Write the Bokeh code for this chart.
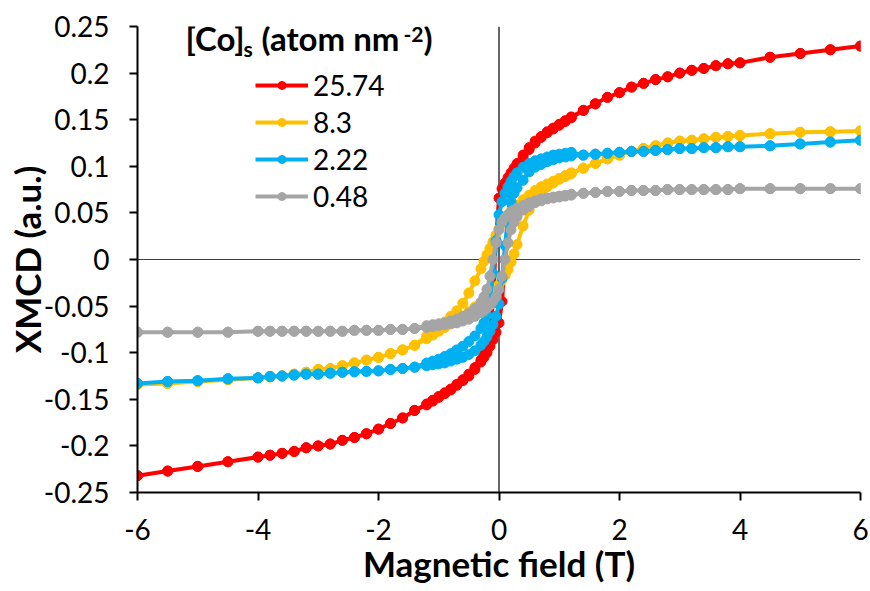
from bokeh.plotting import figure
from bokeh.models import (Span, Legend, LegendItem, Label, FixedTicker,
                          CustomJSTickFormatter, ColumnDataSource)
from bokeh.embed import file_html
from bokeh.resources import INLINE

# ---------------- data ----------------
SERIES = ["25.74", "8.3", "2.22", "0.48"]
COLORS = ["#FF0000", "#FFC000", "#00B0F0", "#A5A5A5"]

# magnetic field values (T)
X_OUT_POS = [6.0, 5.5, 5.0, 4.5, 4.0, 3.8, 3.6, 3.4, 3.2, 3.0, 2.8, 2.6, 2.4, 2.2, 2.0, 1.8, 1.6, 1.4]
X_IN_DOWN = [1.2, 1.1, 1.0, 0.9, 0.8, 0.7, 0.6, 0.5, 0.4, 0.3, 0.25, 0.2, 0.15, 0.1, 0.05, 0.0,
             -0.05, -0.1, -0.15, -0.2, -0.25, -0.3, -0.4, -0.5, -0.6, -0.7, -0.8, -0.9, -1.0, -1.1, -1.2]
X_OUT_NEG = [-1.4, -1.6, -1.8, -2.0, -2.2, -2.4, -2.6, -2.8, -3.0, -3.2, -3.4, -3.6, -3.8, -4.0, -4.5, -5.0, -5.5, -6.0]
X_IN_UP = [-1.2, -1.1, -1.0, -0.9, -0.8, -0.7, -0.6, -0.5, -0.4, -0.3, -0.25, -0.2, -0.15, -0.1, -0.05, 0.0,
           0.05, 0.1, 0.15, 0.2, 0.25, 0.3, 0.4, 0.5, 0.6, 0.7, 0.8, 0.9, 1.0, 1.1, 1.2]

# 25.74 atom/nm2
RED_OUT_POS = [0.229, 0.225, 0.221, 0.217, 0.211, 0.210, 0.208, 0.205, 0.203, 0.200, 0.196, 0.193, 0.189, 0.185, 0.179, 0.174, 0.167, 0.160]
RED_IN_DOWN = [0.153, 0.149, 0.145, 0.141, 0.137, 0.132, 0.127, 0.120, 0.112, 0.103, 0.098, 0.093, 0.088, 0.082, 0.076, 0.066,
               0.020, -0.045, -0.078, -0.094, -0.102, -0.108, -0.116, -0.123, -0.129, -0.134, -0.139, -0.143, -0.147, -0.151, -0.155]
RED_OUT_NEG = [-0.162, -0.170, -0.176, -0.182, -0.187, -0.191, -0.194, -0.198, -0.200, -0.202, -0.206, -0.208, -0.210, -0.212, -0.217, -0.222, -0.227, -0.232]
RED_IN_UP = [-0.156, -0.152, -0.148, -0.144, -0.140, -0.135, -0.130, -0.125, -0.118, -0.110, -0.105, -0.100, -0.093, -0.086, -0.078, -0.068,
             -0.045, 0.000, 0.045, 0.075, 0.090, 0.098, 0.109, 0.118, 0.125, 0.131, 0.136, 0.140, 0.144, 0.148, 0.152]

# 8.3 atom/nm2
YEL_OUT_POS = [0.138, 0.137, 0.1365, 0.135, 0.133, 0.132, 0.131, 0.1295, 0.128, 0.127, 0.125, 0.122, 0.119, 0.116, 0.112, 0.108, 0.103, 0.098]
YEL_IN_DOWN = [0.093, 0.090, 0.087, 0.084, 0.081, 0.078, 0.074, 0.069, 0.064, 0.058, 0.055, 0.052, 0.048, 0.044, 0.039, 0.033,
               0.026, 0.019, 0.012, 0.005, -0.002, -0.010, -0.023, -0.036, -0.047, -0.055, -0.061, -0.067, -0.072, -0.077, -0.082]
YEL_OUT_NEG = [-0.092, -0.097, -0.101, -0.105, -0.108, -0.111, -0.114, -0.117, -0.118, -0.121, -0.123, -0.125, -0.126, -0.127, -0.129, -0.131, -0.133, -0.134]
YEL_IN_UP = [-0.085, -0.081, -0.077, -0.073, -0.069, -0.065, -0.061, -0.056, -0.051, -0.046, -0.043, -0.040, -0.037, -0.034, -0.031, -0.027,
             -0.022, -0.017, -0.011, -0.003, 0.006, 0.016, 0.036, 0.053, 0.064, 0.072, 0.078, 0.082, 0.086, 0.089, 0.092]

# 2.22 atom/nm2
BLU_OUT_POS = [0.128, 0.126, 0.124, 0.122, 0.121, 0.121, 0.120, 0.120, 0.119, 0.119, 0.118, 0.117, 0.116, 0.116, 0.115, 0.114, 0.113, 0.112]
BLU_IN_DOWN = [0.115, 0.114, 0.113, 0.112, 0.110, 0.108, 0.106, 0.103, 0.099, 0.093, 0.089, 0.084, 0.078, 0.071, 0.062, 0.048,
               0.020, -0.015, -0.045, -0.060, -0.068, -0.074, -0.082, -0.088, -0.093, -0.097, -0.101, -0.104, -0.107, -0.109, -0.111]
BLU_OUT_NEG = [-0.1155, -0.117, -0.118, -0.1195, -0.120, -0.1205, -0.121, -0.122, -0.123, -0.123, -0.124, -0.125, -0.1255, -0.127, -0.128, -0.130, -0.131, -0.133]
BLU_IN_UP = [-0.114, -0.113, -0.112, -0.111, -0.109, -0.107, -0.105, -0.102, -0.098, -0.092, -0.088, -0.083, -0.077, -0.070, -0.061, -0.048,
             -0.020, 0.015, 0.045, 0.062, 0.071, 0.077, 0.085, 0.094, 0.099, 0.102, 0.105, 0.107, 0.109, 0.110, 0.111]

# 0.48 atom/nm2
GRY_OUT_POS = [0.076, 0.076, 0.076, 0.076, 0.076, 0.075, 0.075, 0.075, 0.075, 0.075, 0.075, 0.074, 0.074, 0.074, 0.073, 0.073, 0.072, 0.071]
GRY_IN_DOWN = [0.070, 0.069, 0.068, 0.067, 0.066, 0.065, 0.063, 0.061, 0.058, 0.055, 0.053, 0.051, 0.048, 0.045, 0.040, 0.032,
               0.018, 0.000, -0.018, -0.032, -0.040, -0.046, -0.053, -0.058, -0.061, -0.064, -0.066, -0.068, -0.069, -0.070, -0.071]
GRY_OUT_NEG = [-0.074, -0.075, -0.075, -0.076, -0.076, -0.076, -0.077, -0.077, -0.077, -0.077, -0.077, -0.077, -0.077, -0.077, -0.078, -0.078, -0.078, -0.078]
GRY_IN_UP = [-0.073, -0.072, -0.071, -0.070, -0.069, -0.068, -0.066, -0.064, -0.061, -0.057, -0.055, -0.052, -0.049, -0.045, -0.040, -0.032,
             -0.018, 0.000, 0.018, 0.032, 0.040, 0.046, 0.053, 0.057, 0.061, 0.063, 0.065, 0.066, 0.067, 0.068, 0.069]

X_TICKS = [-6, -4, -2, 0, 2, 4, 6]
Y_TICKS = [-0.25, -0.2, -0.15, -0.1, -0.05, 0, 0.05, 0.1, 0.15, 0.2, 0.25]

X_LABEL = "Magnetic field (T)"
Y_LABEL = "XMCD (a.u.)"

SERIES_DATA = [
    (RED_OUT_POS, RED_IN_DOWN, RED_OUT_NEG, RED_IN_UP),
    (YEL_OUT_POS, YEL_IN_DOWN, YEL_OUT_NEG, YEL_IN_UP),
    (BLU_OUT_POS, BLU_IN_DOWN, BLU_OUT_NEG, BLU_IN_UP),
    (GRY_OUT_POS, GRY_IN_DOWN, GRY_OUT_NEG, GRY_IN_UP),
]

# ---------------- layout ----------------
W, H = 870, 591
FL, FR, FT, FB = 137, 860, 26, 492   # frame edges in picture px
XMIN, XMAX, YMIN, YMAX = -6, 6, -0.25, 0.25


def px2x(px):
    return XMIN + (px - FL) * (XMAX - XMIN) / (FR - FL)


def py2y(py):
    return YMAX - (py - FT) * (YMAX - YMIN) / (FB - FT)


FONT = "Lato"

p = figure(width=W, height=H, x_range=(XMIN, XMAX), y_range=(YMIN, YMAX),
           output_backend="svg", toolbar_location=None,
           min_border_left=FL, min_border_right=W - FR,
           min_border_top=FT, min_border_bottom=H - FB)
p.outline_line_color = None
p.grid.visible = False
p.background_fill_color = "white"
p.border_fill_color = "white"

p.xaxis.ticker = FixedTicker(ticks=X_TICKS)
p.yaxis.ticker = FixedTicker(ticks=Y_TICKS)
p.xaxis.formatter = CustomJSTickFormatter(code="return Math.round(tick).toString();")
p.yaxis.formatter = CustomJSTickFormatter(code="return (Math.round(tick*100)/100).toString();")
for ax in (p.xaxis[0], p.yaxis[0]):
    ax.axis_line_color = "black"
    ax.axis_line_width = 2
    ax.major_tick_line_color = "black"
    ax.major_tick_line_width = 2
    ax.major_tick_out = 8
    ax.major_tick_in = 0
    ax.minor_tick_line_color = None
    ax.major_label_text_font = FONT
    ax.major_label_text_font_size = "28px"
    ax.major_label_text_color = "black"
    ax.axis_label_text_font = FONT
    ax.axis_label_text_font_style = "bold"
    ax.axis_label_text_font_size = "35px"
    ax.axis_label_text_color = "black"
p.xaxis.major_label_standoff = 18
p.yaxis.major_label_standoff = 20
p.xaxis.axis_label = X_LABEL
p.yaxis.axis_label = Y_LABEL
p.xaxis.axis_label_standoff = -1
p.yaxis.axis_label_standoff = -7

# zero lines
p.add_layout(Span(location=0, dimension="height", line_color="black", line_width=1.2, level="underlay"))
p.add_layout(Span(location=0, dimension="width", line_color="#404040", line_width=1.2, level="underlay"))

items = []
for name, color, (op, idn, on, iup) in zip(SERIES, COLORS, SERIES_DATA):
    xs = X_OUT_POS + X_IN_DOWN + X_OUT_NEG + X_OUT_NEG[::-1] + X_IN_UP + X_OUT_POS[::-1]
    ys = op + idn + on + on[::-1] + iup + op[::-1]
    src = ColumnDataSource(dict(x=xs, y=ys))
    lr = p.line("x", "y", source=src, line_color=color, line_width=4, line_join="round")
    sr = p.scatter("x", "y", source=src, size=10, marker="circle",
                   fill_color=color, line_color=color)
    items.append(LegendItem(label=name, renderers=[lr, sr]))

legend = Legend(items=items, location=(118, 279), padding=0, margin=0,
                spacing=3, glyph_width=53, glyph_height=20, label_height=30,
                label_standoff=5, label_text_font=FONT, label_text_font_size="28px",
                label_text_color="black", border_line_color=None,
                background_fill_alpha=0)
p.add_layout(legend)

# legend title: [Co]s (atom nm-2)   (x, vertical middle) in picture px
TITLE_PARTS = [("[Co]", 185, 37, "33px"), ("s", 243, 48, "21px"),
               ("(atom nm", 261, 37, "33px"), ("-2", 403, 34, "21px"), (")", 423, 37, "33px")]
for txt, px, py, fs in TITLE_PARTS:
    p.add_layout(Label(x=px2x(px), y=py2y(py), text=txt, text_font=FONT,
                       text_font_style="bold", text_font_size=fs, text_color="black",
                       text_align="left", text_baseline="middle"))

open("out.html", "w").write(file_html(p, INLINE))
